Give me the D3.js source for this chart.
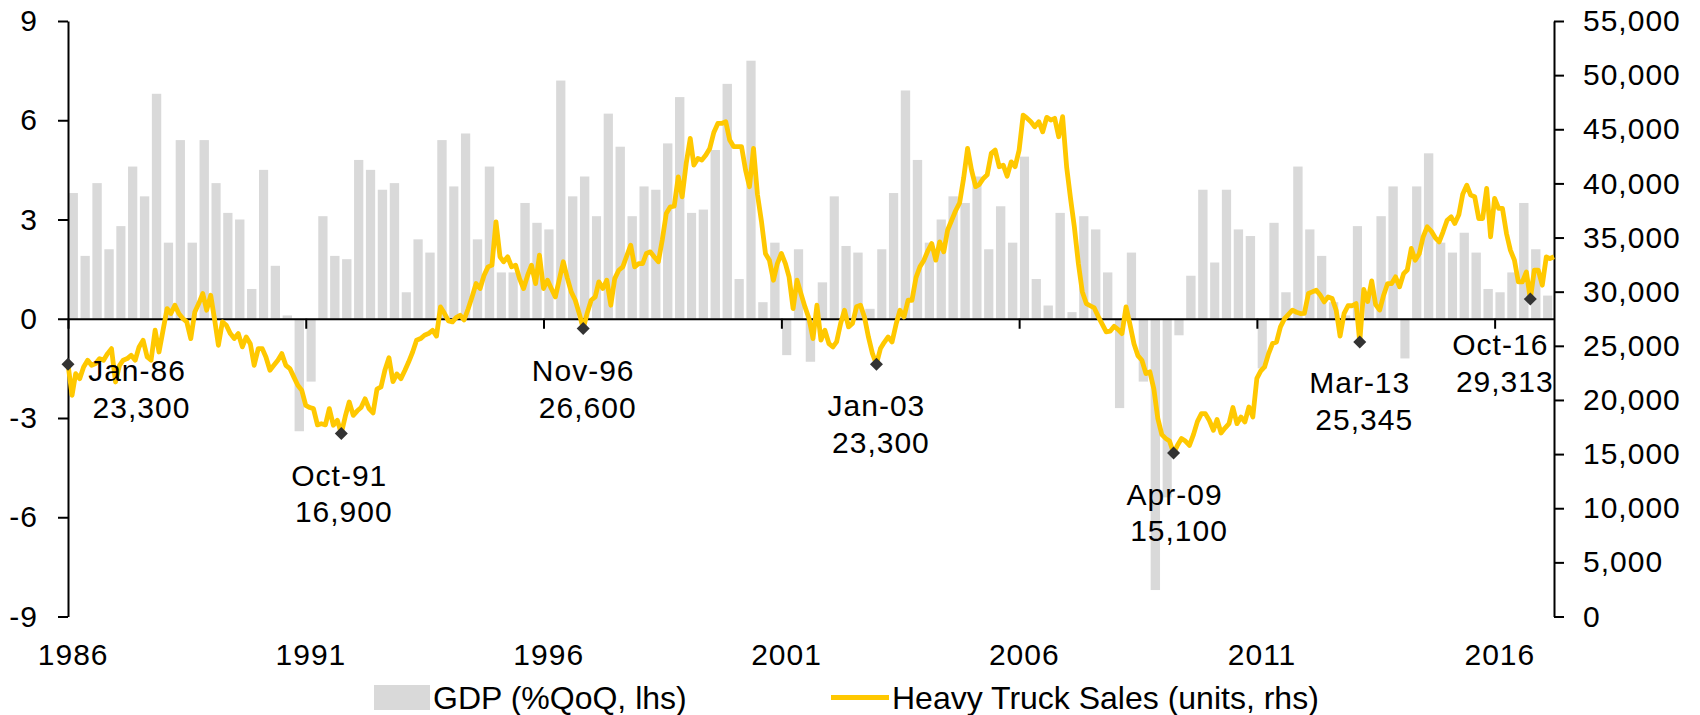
<!DOCTYPE html>
<html>
<head>
<meta charset="utf-8">
<script src="https://cdn.jsdelivr.net/npm/d3@7"></script>
<style>
  html, body { margin: 0; padding: 0; background: #fff; }
  svg text { font-family: "Liberation Sans", Arial, sans-serif; fill: #000; }
</style>
</head>
<body>
<svg id="chart" width="1700" height="715"></svg>
<script>
// ---- Data ---------------------------------------------------------------
// Real GDP growth, % QoQ (annualised), quarterly from 1986Q1
const gdpQoQ = [
  3.8, 1.9, 4.1, 2.1,   2.8, 4.6, 3.7, 6.8,   2.3, 5.4, 2.3, 5.4,   4.1, 3.2, 3.0, 0.9,
  4.5, 1.6, 0.1, -3.4,  -1.9, 3.1, 1.9, 1.8,  4.8, 4.5, 3.9, 4.1,   0.8, 2.4, 2.0, 5.4,
  4.0, 5.6, 2.4, 4.6,   1.4, 1.4, 3.5, 2.9,   2.7, 7.2, 3.7, 4.3,   3.1, 6.2, 5.2, 3.1,
  4.0, 3.9, 5.3, 6.7,   3.2, 3.3, 5.1, 7.1,   1.2, 7.8, 0.5, 2.3,   -1.1, 2.1, -1.3, 1.1,
  3.7, 2.2, 2.0, 0.3,   2.1, 3.8, 6.9, 4.8,   2.3, 3.0, 3.7, 3.5,   4.3, 2.1, 3.4, 2.3,
  4.9, 1.2, 0.4, 3.2,   0.2, 3.1, 2.7, 1.4,   -2.7, 2.0, -1.9, -8.2, -5.4, -0.5, 1.3, 3.9,
  1.7, 3.9, 2.7, 2.5,   -1.5, 2.9, 0.8, 4.6,  2.7, 1.9, 0.5, 0.1,   2.8, 0.8, 3.1, 4.0,
  -1.2, 4.0, 5.0, 2.3,  2.0, 2.6, 2.0, 0.9,   0.8, 1.4, 3.5, 2.1,   0.7
];

// Heavy truck sales, units, monthly from Jan 1986
const truckSales = [
  23300, 20430, 22430, 21970, 23050, 23670, 23200, 23360, 23820, 23670, 24280, 24740, // 1986
  21660, 23200, 23670, 23820, 24130, 23670, 24900, 25510, 23970, 23670, 26440, 24430, // 1987
  26440, 28440, 27980, 28750, 27980, 27520, 27210, 25670, 28130, 28900, 29830, 28290, // 1988
  29670, 27360, 25050, 27210, 26900, 26130, 25670, 26130, 24900, 25820, 25200, 23200, // 1989
  24740, 24740, 23970, 22740, 23200, 23670, 24280, 23200, 22900, 22130, 21350, 20900, // 1990
  19500, 19300, 19200, 17700, 17800, 17700, 19200, 17660, 18120, 16900, 18500, 19810, // 1991
  18580, 19000, 19300, 20100, 19200, 18800, 21000, 21200, 22800, 23900, 21700, 22400, // 1992
  21970, 22740, 23500, 24430, 25510, 25670, 25980, 26130, 26440, 25900, 28590, 28000, // 1993
  27300, 27210, 27600, 27830, 27400, 28400, 29500, 30750, 30290, 31500, 32290, 32450, // 1994
  36450, 33220, 32760, 33220, 32290, 32450, 31200, 30290, 31500, 32450, 30750, 33370, // 1995
  30290, 31060, 30300, 29520, 31100, 32760, 31300, 29980, 29210, 28000, 26600, 28000, // 1996
  29210, 29520, 30910, 30290, 31060, 28750, 31210, 31980, 32290, 33300, 34300, 32300, // 1997
  32600, 32600, 33530, 33680, 33200, 32760, 34760, 37220, 37840, 37900, 40610, 38760, // 1998
  41850, 44160, 41690, 42310, 42150, 42620, 43230, 44700, 45540, 45540, 45700, 44000, // 1999
  43390, 43390, 43390, 41230, 39690, 43230, 39000, 36500, 33500, 32910, 31060, 32600, // 2000
  33530, 32600, 31370, 28440, 31060, 29800, 28600, 27520, 25670, 28750, 25520, 26440, // 2001
  25210, 24900, 25360, 27060, 28290, 26750, 27060, 28600, 28750, 27670, 25800, 24300, // 2002
  23300, 24750, 25300, 25820, 25360, 27000, 28290, 27670, 29210, 29210, 31300, 32300, // 2003
  32910, 33800, 34450, 32910, 34600, 33680, 35700, 36600, 37500, 38200, 40500, 43230, // 2004
  41200, 39700, 39900, 40460, 40800, 42770, 43080, 41540, 41690, 40670, 41990, 41540, // 2005
  43080, 46310, 46050, 45700, 45230, 45700, 44770, 46100, 45850, 46010, 44310, 46160, // 2006
  41500, 38500, 36000, 32600, 30000, 28900, 28700, 28500, 27700, 27000, 26290, 26350, // 2007
  26800, 26500, 26130, 28600, 27000, 25200, 24100, 23670, 22430, 22600, 21000, 18300, // 2008
  16800, 16430, 16200, 15100, 15810, 16430, 16200, 15800, 16800, 18000, 18740, 18740, // 2009
  18100, 17200, 18200, 16950, 17400, 17810, 19300, 17810, 18430, 17970, 19350, 18430, // 2010
  22000, 22700, 23050, 24280, 25210, 25360, 26750, 27500, 27900, 28290, 28100, 27980, // 2011
  28000, 29830, 29980, 30140, 29700, 29060, 29520, 29370, 28290, 25900, 28000, 28700, // 2012
  28700, 28900, 25345, 30200, 29100, 31000, 28800, 28300, 29700, 30750, 30750, 31370, // 2013
  30450, 31670, 32000, 33990, 32910, 33500, 35070, 35990, 35600, 35000, 34600, 35530, // 2014
  36600, 36910, 36300, 37100, 39000, 39840, 38920, 38770, 36760, 36760, 39540, 35070, // 2015
  38620, 37690, 37690, 35380, 33840, 32910, 30910, 30910, 31830, 29313, 31990, 31990, // 2016
  30600, 33220, 33060, 33220                                                          // 2017
];

const startYear = 1986;
const yearTicks = [1986, 1991, 1996, 2001, 2006, 2011, 2016];
const gdpTicks = [-9, -6, -3, 0, 3, 6, 9];
const salesTicks = [0, 5000, 10000, 15000, 20000, 25000, 30000, 35000, 40000, 45000, 50000, 55000];

// Turning points called out on the truck-sales line: [year, month (1-12), label]
const calloutMonths = [
  [1986, 1, "Jan-86"], [1991, 10, "Oct-91"], [1996, 11, "Nov-96"], [2003, 1, "Jan-03"],
  [2009, 4, "Apr-09"], [2013, 3, "Mar-13"], [2016, 10, "Oct-16"]
];
const seriesNames = ["GDP (%QoQ, lhs)", "Heavy Truck Sales (units, rhs)"];

// ---- Layout -------------------------------------------------------------
const plot = { left: 68, right: 1554, top: 21, bottom: 616.5 };
// label placement relative to each marker: [dx, dy] of the first line's centre/baseline
const calloutPlacement = [[69, 17], [-2, 52], [0, 53], [0, 52], [1, 51.5], [0, 51], [-30, 56]];
const lineGap = 36.7, secondLineShift = 4.5;
const BAR = "#d9d9d9", LINE = "#ffc800", MARK = "#333333";
const FONT = 30, LEGEND_FONT = 32;

const svg = d3.select("#chart");

const monthDate = i => new Date(startYear, i, 1);
const x = d3.scaleTime()
  .domain([new Date(startYear, 0, 1), new Date(2017, 3, 1)])
  .range([plot.left, plot.right]);
const yL = d3.scaleLinear().domain([-9, 9]).range([plot.bottom, plot.top]);
const yR = d3.scaleLinear().domain([0, 55000]).range([plot.bottom, plot.top]);

// GDP bars, one per quarter
svg.append("g").selectAll("rect")
  .data(gdpQoQ)
  .join("rect")
  .attr("x", (d, i) => x(monthDate(3 * i)) + 0.8)
  .attr("width", (d, i) => x(monthDate(3 * i + 3)) - x(monthDate(3 * i)) - 2.6)
  .attr("y", d => yL(Math.max(0, d)))
  .attr("height", d => Math.abs(yL(d) - yL(0)))
  .attr("fill", BAR);

// axes
function styleAxis(g) {
  g.selectAll("path.domain").attr("stroke", "#000").attr("stroke-width", 2);
  g.selectAll(".tick line").attr("stroke", "#000").attr("stroke-width", 2);
  g.selectAll(".tick text")
    .attr("font-size", FONT)
    .attr("letter-spacing", 1)
    .attr("font-family", '"Liberation Sans", Arial, sans-serif')
    .attr("fill", "#000");
}

svg.append("g")
  .attr("transform", `translate(0,${yL(0)})`)
  .call(d3.axisBottom(x)
    .tickValues(yearTicks.map(yr => new Date(yr, 0, 1)))
    .tickSize(10).tickSizeOuter(0).tickFormat(""))
  .call(styleAxis);

svg.append("g")
  .attr("transform", `translate(${plot.left},0)`)
  .call(d3.axisLeft(yL).tickValues(gdpTicks).tickSize(10).tickSizeOuter(0).tickPadding(20)
    .tickFormat(d => String(d)))
  .call(styleAxis);

svg.append("g")
  .attr("transform", `translate(${plot.right},0)`)
  .call(d3.axisRight(yR).tickValues(salesTicks).tickSize(10).tickSizeOuter(0)
    .tickPadding(19).tickFormat(d3.format(",")))
  .call(styleAxis);

// year labels sit below the plot, centred on each year's first quarter
svg.append("g").selectAll("text")
  .data(yearTicks)
  .join("text")
  .attr("x", yr => (x(new Date(yr, 0, 1)) + x(new Date(yr, 3, 1))) / 2 - 0.7)
  .attr("y", 665)
  .attr("text-anchor", "middle")
  .attr("font-size", FONT)
  .attr("letter-spacing", 1)
  .text(yr => yr);

// truck sales line
svg.append("path")
  .datum(truckSales)
  .attr("fill", "none")
  .attr("stroke", LINE)
  .attr("stroke-width", 4.8)
  .attr("stroke-linejoin", "round")
  .attr("d", d3.line().x((d, i) => x(monthDate(i))).y(d => yR(d)));

// callouts
const fmt = d3.format(",");
const callouts = calloutMonths.map(([yr, m, label], k) => {
  const idx = (yr - startYear) * 12 + (m - 1);
  return { idx, label, value: truckSales[idx], place: calloutPlacement[k] };
});

const cg = svg.append("g");
callouts.forEach(c => {
  const px = x(monthDate(c.idx)), py = yR(c.value);
  cg.append("path")
    .attr("d", "M0,-6.5L6.5,0L0,6.5L-6.5,0Z")
    .attr("transform", `translate(${px},${py})`)
    .attr("fill", MARK);
  const t = cg.append("text")
    .attr("text-anchor", "middle")
    .attr("font-size", FONT)
    .attr("letter-spacing", 1);
  t.append("tspan")
    .attr("x", px + c.place[0])
    .attr("y", py + c.place[1])
    .text(c.label);
  t.append("tspan")
    .attr("x", px + c.place[0] + secondLineShift)
    .attr("y", py + c.place[1] + lineGap)
    .text(fmt(c.value));
});

// legend
const lg = svg.append("g");
lg.append("rect").attr("x", 374).attr("y", 685).attr("width", 56).attr("height", 25).attr("fill", BAR);
lg.append("text").attr("x", 433).attr("y", 709).attr("font-size", LEGEND_FONT).text(seriesNames[0]);
lg.append("line").attr("x1", 831).attr("x2", 889).attr("y1", 697.5).attr("y2", 697.5)
  .attr("stroke", LINE).attr("stroke-width", 4.8);
lg.append("text").attr("x", 892).attr("y", 709).attr("font-size", LEGEND_FONT).text(seriesNames[1]);
</script>
</body>
</html>
